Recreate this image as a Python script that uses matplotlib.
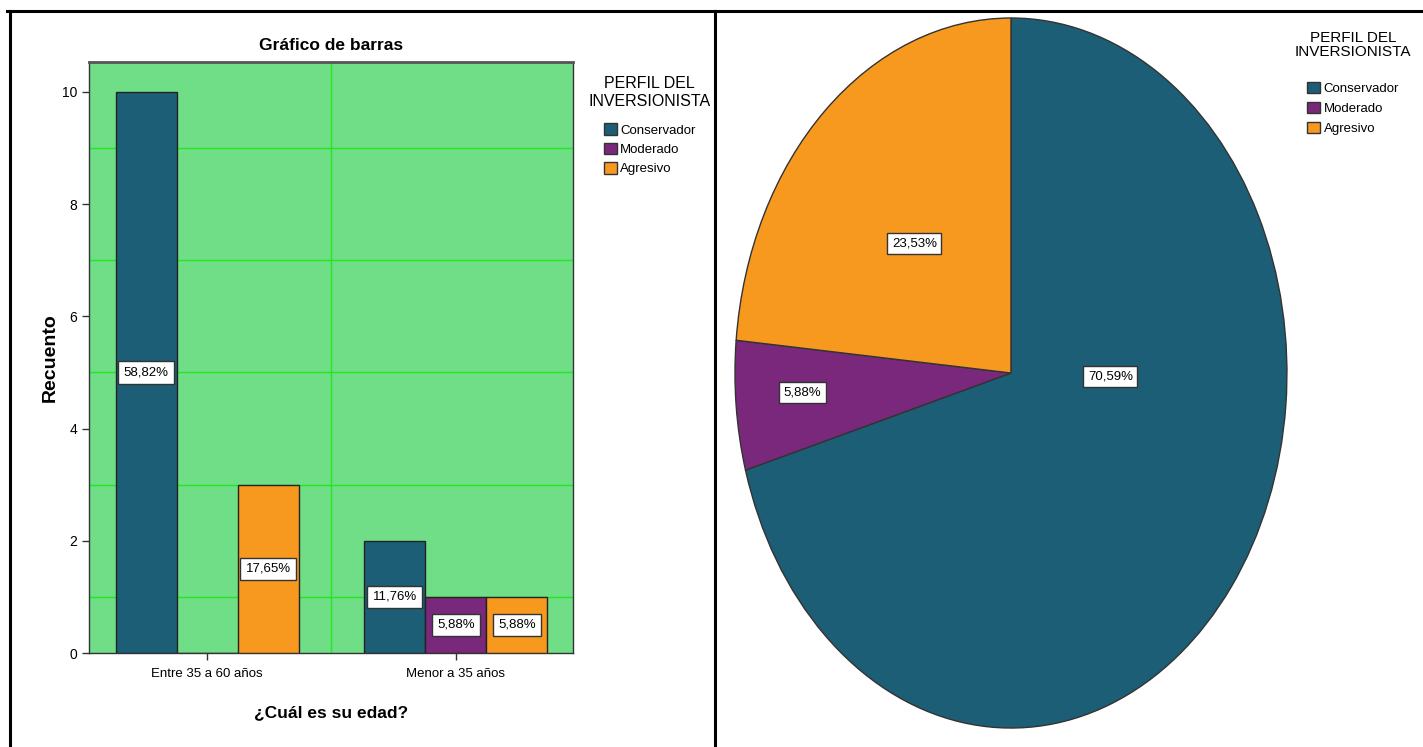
import numpy as np
import matplotlib
matplotlib.use('Agg')
import matplotlib.pyplot as plt
from matplotlib.lines import Line2D
from matplotlib.patches import Patch

# Datos: recuento por edad y perfil del inversionista
edades = ['Entre 35 a 60 años', 'Menor a 35 años']
perfiles = ['Conservador', 'Moderado', 'Agresivo']
conservador = [10, 2]
moderado = [0, 1]
agresivo = [3, 1]
total_perfil = [12, 1, 4]

colores = ['#1C5E75', '#7A287B', '#F7991E']
plt.rcParams['font.family'] = ['Liberation Sans', 'DejaVu Sans']

fig = plt.figure(figsize=(14.23, 7.47), dpi=100)

# --- Gráfico de barras ---
ax = fig.add_axes([0.0625, 0.1258, 0.340, 0.791])
ax.set_facecolor('#70DD87')
total = sum(total_perfil)
x = np.arange(len(edades))
w = 0.245
series = [conservador, moderado, agresivo]
for i, (vals, col) in enumerate(zip(series, colores)):
    pos = x + (i - 1) * w
    ax.bar(pos, vals, width=w, color=col, edgecolor='#222222', linewidth=1, zorder=3)
    for px, v in zip(pos, vals):
        if v > 0:
            ax.text(px, v / 2, f'{v / total * 100:.2f}%'.replace('.', ','),
                    ha='center', va='center', fontsize=9.5, zorder=4,
                    bbox=dict(boxstyle='square,pad=0.4', fc='white', ec='#333333', lw=1))

ax.set_xlim(-0.475, 1.47)
ax.set_ylim(0, 10.53)
ax.set_yticks([0, 2, 4, 6, 8, 10])
for yg in [1, 3, 5, 7, 9]:
    ax.axhline(yg, color='#1EEB1E', lw=1, zorder=1)
ax.axvline(0.5, color='#1EEB1E', lw=1, zorder=1)
ax.set_xticks(x)
ax.set_xticklabels(edades, fontsize=9.5)
ax.tick_params(axis='y', labelsize=10)
ax.tick_params(axis='x', pad=6)
ax.tick_params(length=5, width=1, color='#333333')
for s in ax.spines.values():
    s.set_color('#333333')
    s.set_linewidth(1)
ax.spines['top'].set_color('#555555')
ax.spines['top'].set_linewidth(2)

ax.set_title('Gráfico de barras', fontsize=12.5, fontweight='bold', pad=9)
ax.set_xlabel('¿Cuál es su edad?', fontsize=12.5, fontweight='bold', labelpad=18)
ax.set_ylabel('Recuento', fontsize=14, fontweight='bold', labelpad=2)

handles = [Patch(facecolor=c, edgecolor='#333333', label=p) for c, p in zip(colores, perfiles)]
leg = ax.legend(handles=handles, title='PERFIL DEL\nINVERSIONISTA', loc='upper left',
                bbox_to_anchor=(1.008, 0.997), frameon=False, prop={'size': 9.5},
                handlelength=1.0, handleheight=1.0, handletextpad=0.25, labelspacing=0.45,
                alignment='center')
leg.get_title().set_fontsize(11.5)
leg.get_title().set_multialignment('center')
leg.get_title().set_linespacing(1.3)
leg._legend_box.sep = 10

# --- Gráfico circular ---
axp = fig.add_axes([0.5165, 0.0254, 0.3879, 0.9505])
wedges, _ = axp.pie(total_perfil, colors=colores, startangle=90, counterclock=False,
                    wedgeprops=dict(edgecolor='#333333', linewidth=1))
axp.set_aspect('auto')
axp.set_xlim(-1, 1)
axp.set_ylim(-1, 1)
label_pos = [(0.36, -0.01), (-0.755, -0.055), (-0.35, 0.365)]
for v, (lx, ly) in zip(total_perfil, label_pos):
    axp.text(lx, ly, f'{v / total * 100:.2f}%'.replace('.', ','), ha='center', va='center',
             fontsize=9.5,
             bbox=dict(boxstyle='square,pad=0.35', fc='white', ec='#333333', lw=1))

leg2 = fig.legend(handles=handles, title='PERFIL DEL\nINVERSIONISTA', loc='upper center',
                  bbox_to_anchor=(1353 / 1423, 1 - 19 / 747), frameon=False,
                  prop={'size': 9.5}, handlelength=1.0, handleheight=1.0,
                  handletextpad=0.25, labelspacing=0.5, alignment='center')
leg2.get_title().set_fontsize(11)
leg2.get_title().set_multialignment('center')
leg2.get_title().set_linespacing(1.05)
leg2._legend_box.sep = 16

# Bordes de la tabla
lw = 2.2
fig.add_artist(Line2D([7 / 1423, 1], [1 - 11 / 747] * 2, color='black', lw=lw))
fig.add_artist(Line2D([10 / 1423] * 2, [0, 1 - 11 / 747], color='black', lw=lw))
fig.add_artist(Line2D([715 / 1423] * 2, [0, 1 - 11 / 747], color='black', lw=lw))

fig.savefig('out.png', dpi=100)
